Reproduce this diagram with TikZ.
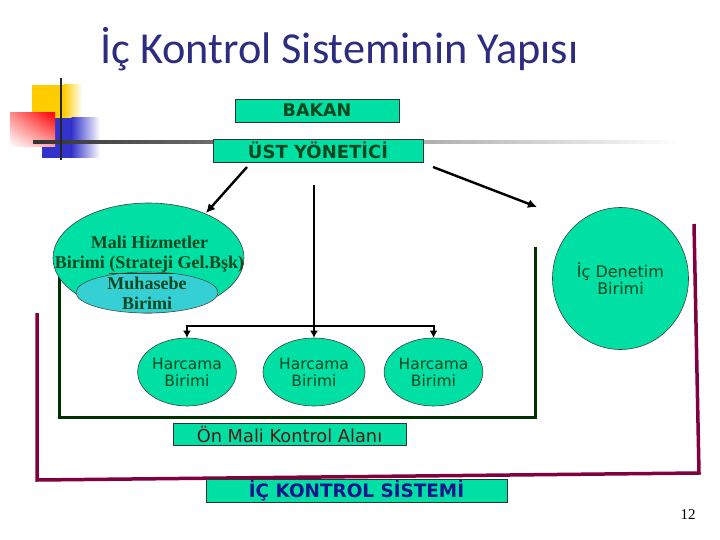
\documentclass[tikz,border=0pt]{standalone}
\usepackage{fontspec}
\setmainfont{DejaVu Sans}
\newfontfamily\titlefont{Carlito}
\newfontfamily\timesfont{Liberation Serif}
\usetikzlibrary{shapes.geometric,calc,arrows.meta,shadings}

\definecolor{mint}{RGB}{0,224,164}
\definecolor{lagoon}{RGB}{52,208,212}
\definecolor{leafink}{RGB}{10,70,30}
\definecolor{titleblue}{RGB}{44,44,128}
\definecolor{plum}{RGB}{128,0,64}
\definecolor{pine}{RGB}{0,48,0}
\definecolor{navyink}{RGB}{20,20,140}
\definecolor{rustink}{RGB}{90,24,20}
\definecolor{decoyellow}{RGB}{255,204,0}
\definecolor{decoblue}{RGB}{51,51,204}

\tikzset{
  box/.style={draw=black!80, fill=mint, line width=0.8pt, inner sep=0pt,
    minimum height=23pt},
  unit/.style={ellipse, draw=black!75, fill=mint, line width=0.6pt,
    inner sep=0pt, align=center, text=leafink,
    font=\fontsize{15.5}{17}\selectfont},
  conn/.style={line width=2.4pt, -{Latex[length=9pt,width=9pt]}},
  busline/.style={line width=2pt, -{Latex[length=7pt,width=8pt]}},
}

\begin{document}
\begin{tikzpicture}[x=1pt,y=-1pt]
  \useasboundingbox[fill=white] (0,0) rectangle (720,540);

  % corner mark
  \fill[decoyellow] (32,85) rectangle (64,118);
  \shade[left color=decoyellow, right color=white] (63.5,85) rectangle (82,118);
  \fill[decoblue] (42,118) rectangle (72,158);
  \shade[left color=decoblue, right color=white] (71.5,118) rectangle (100,158);
  \shade[upper left=red!45, upper right=red, lower left=white, lower right=red!35]
    (10,113) rectangle (55,147);
  \shade[left color=black!80, right color=white] (33,140.8) rectangle (680,143.2);
  \draw[black!85, line width=2.5pt] (61,78) -- (61,160);

  % title
  \node[anchor=base west, inner sep=0pt, text=titleblue,
    font=\titlefont\fontsize{44.3}{45}\selectfont] (title) at (100,64)
    {İç Kontrol Sisteminin Yapısı};

  % control areas
  \draw[pine, line width=3pt] (59,275) -- (59,417) -- (535,417) -- (535,247);
  \draw[plum, line width=3.5pt] (37,313) -- (37,480) -- (699,473) -- (694,224);

  % boxes
  \node[box, minimum width=164pt, text=leafink,
    font=\bfseries\fontsize{17.5}{17}\selectfont] (bakan) at (317,110.5) {BAKAN};
  \node[box, minimum width=210pt, text=leafink,
    font=\bfseries\fontsize{18}{17}\selectfont] (ust) at (318,150.5) {ÜST YÖNETİCİ};

  % units
  \node[unit, minimum width=191pt, minimum height=110pt] (mali) at (148.5,258) {};
  \node[ellipse, draw=black!70, fill=lagoon, line width=0.6pt,
    minimum width=142pt, minimum height=41pt] (muhasebe) at (147,292.5) {};
  \node[align=center, text=leafink, inner sep=0pt,
    font=\timesfont\bfseries\fontsize{18}{19.7}\selectfont] (malitext) at (149.5,255)
    {Mali Hizmetler\\Birimi \underline{(Strateji} Gel.Bşk)};
  \node[align=center, text=leafink, inner sep=0pt,
    font=\timesfont\bfseries\fontsize{18}{19.7}\selectfont] (muhtext) at (147,293)
    {Muhasebe\\Birimi};
  \node[unit, minimum width=136pt, minimum height=142pt,
    font=\fontsize{16}{17}\selectfont] (denetim) at (620.5,278.5)
    {İç Denetim\\Birimi};
  \node[unit, minimum width=86pt, minimum height=68pt] (harc1) at (187,372)
    {Harcama\\Birimi};
  \node[unit, minimum width=102pt, minimum height=68pt] (harc2) at (314,372)
    {Harcama\\Birimi};
  \node[unit, minimum width=92pt, minimum height=68pt] (harc3) at (433.5,372)
    {Harcama\\Birimi};

  % labels
  \node[box, minimum width=233pt, minimum height=22pt, text=rustink,
    font=\fontsize{17.8}{17}\selectfont] (onmali) at (289.5,434) {Ön Mali Kontrol Alanı};
  \node[box, minimum width=301pt, text=navyink,
    font=\bfseries\fontsize{18.4}{17}\selectfont] (icsistem) at (356.5,490.5)
    {İÇ KONTROL SİSTEMİ};
  \node[font=\timesfont\fontsize{15}{15}\selectfont] (pagenum) at (688,515) {12};

  % connectors
  \coordinate (ustL) at (247,167);
  \coordinate (maliTip) at (206,213);
  \coordinate (ustR) at (433,167);
  \coordinate (denTip) at (537,207);
  \coordinate (trunk) at (314,185);
  \coordinate (bus) at (314,325.5);
  \draw[conn] (ustL) -- (maliTip);
  \draw[conn] (ustR) -- (denTip);
  \draw[line width=2.4pt] (trunk) -- (bus);
  \draw[busline] (bus) -| (harc1.north);
  \draw[busline] (bus) -- (harc2.north);
  \draw[busline] (bus) -| (harc3.north);
\end{tikzpicture}
\end{document}
